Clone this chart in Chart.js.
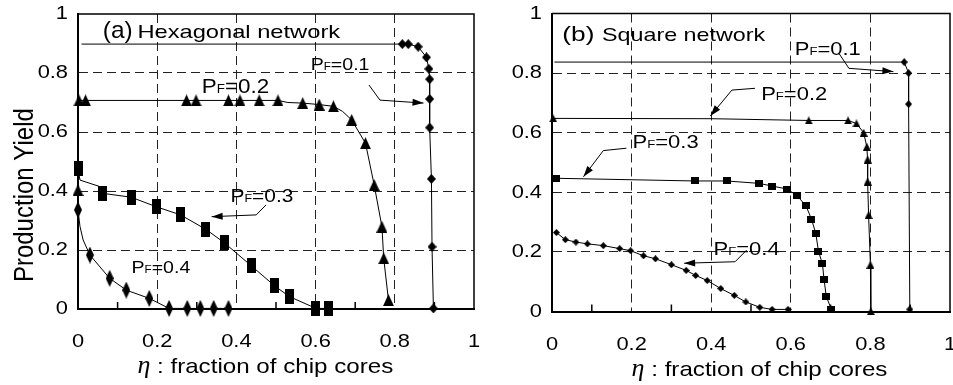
<!DOCTYPE html>
<html>
<head>
<meta charset="utf-8">
<script src="https://cdn.jsdelivr.net/npm/chart.js@4.4.0/dist/chart.umd.min.js"></script>
<style>
  html, body { margin: 0; padding: 0; background: #fff; overflow: hidden; }
  #wrap { position: relative; width: 953px; height: 385px; overflow: hidden; }
  #hexChart { position: absolute; left: 0; top: 0; }
  #sqChart { position: absolute; left: 480px; top: 0; }
</style>
</head>
<body>
<div id="wrap">
  <canvas id="hexChart" width="480" height="385"></canvas>
  <canvas id="sqChart" width="476" height="385"></canvas>
</div>
<script>
// tick labels shared by both axes of both panels
const tickLabels = ['0', '0.2', '0.4', '0.6', '0.8', '1'];

// (a) Hexagonal network -- drawn curve and marked points per failure probability
const hexCurve1X = [0.009, 0.819, 0.834, 0.859, 0.880, 0.886, 0.888, 0.888, 0.888, 0.8925, 0.894, 0.8975];
const hexCurve1Y = [0.898, 0.898, 0.898, 0.889, 0.853, 0.814, 0.779, 0.712, 0.615, 0.441, 0.211, 0.002];
const hexMark1X = [0.819, 0.834, 0.859, 0.880, 0.886, 0.888, 0.888, 0.888, 0.8925, 0.894, 0.8975];
const hexMark1Y = [0.898, 0.898, 0.889, 0.853, 0.814, 0.779, 0.712, 0.615, 0.441, 0.211, 0.002];

const hexCurve2X = [0, 0, 0.019, 0.274, 0.409, 0.505, 0.53, 0.5675, 0.609, 0.645, 0.668, 0.691, 0.726, 0.748, 0.7675, 0.772, 0.784];
const hexCurve2Y = [0.403, 0.707, 0.707, 0.707, 0.707, 0.707, 0.700, 0.698, 0.693, 0.687, 0.670, 0.641, 0.562, 0.420, 0.279, 0.172, 0.030];
const hexMark2X = [0, 0.0025, 0.019, 0.274, 0.298, 0.38, 0.409, 0.4575, 0.505, 0.5675, 0.609, 0.645, 0.691, 0.726, 0.748, 0.7675, 0.772, 0.784];
const hexMark2Y = [0.403, 0.707, 0.707, 0.707, 0.707, 0.707, 0.707, 0.707, 0.707, 0.698, 0.693, 0.687, 0.641, 0.562, 0.420, 0.279, 0.172, 0.030];

const hexCurve3X = [0, 0.005, 0.055, 0.063, 0.134, 0.197, 0.259, 0.323, 0.369, 0.438, 0.497, 0.534, 0.601, 0.632];
const hexCurve3Y = [0.475, 0.437, 0.415, 0.392, 0.379, 0.347, 0.319, 0.270, 0.225, 0.146, 0.078, 0.042, 0.002, 0.002];
const hexMark3X = [0, 0.063, 0.134, 0.197, 0.259, 0.323, 0.369, 0.438, 0.497, 0.534, 0.601, 0.632];
const hexMark3Y = [0.475, 0.392, 0.379, 0.347, 0.319, 0.270, 0.225, 0.146, 0.078, 0.042, 0.002, 0.002];

const hexCurve4X = [0, 0.005, 0.013, 0.03, 0.08, 0.122, 0.18, 0.23, 0.276, 0.309, 0.3425, 0.38];
const hexCurve4Y = [0.336, 0.280, 0.234, 0.183, 0.104, 0.064, 0.036, 0.002, 0.002, 0.002, 0.002, 0.002];
const hexMark4X = [0, 0.03, 0.08, 0.122, 0.18, 0.23, 0.276, 0.309, 0.3425, 0.38];
const hexMark4Y = [0.336, 0.183, 0.104, 0.064, 0.036, 0.002, 0.002, 0.002, 0.002, 0.002];

// (b) Square network
const sqCurve1X = [0.006, 0.885, 0.896, 0.896, 0.899];
const sqCurve1Y = [0.837, 0.837, 0.800, 0.696, 0.007];
const sqMark1X = [0.885, 0.896, 0.896, 0.899];
const sqMark1Y = [0.837, 0.800, 0.696, 0.007];

const sqCurve2X = [0.003, 0.40, 0.645, 0.744, 0.765, 0.783, 0.791, 0.793, 0.793, 0.7955, 0.800, 0.801];
const sqCurve2Y = [0.648, 0.647, 0.641, 0.641, 0.631, 0.600, 0.553, 0.510, 0.436, 0.324, 0.157, 0.001];
const sqMark2X = [0.003, 0.645, 0.744, 0.765, 0.783, 0.791, 0.793, 0.793, 0.7955, 0.800, 0.801];
const sqMark2Y = [0.648, 0.641, 0.641, 0.631, 0.600, 0.553, 0.510, 0.436, 0.324, 0.157, 0.001];

const sqMark3X = [0.011, 0.359, 0.439, 0.52, 0.553, 0.591, 0.616, 0.638, 0.652, 0.663, 0.6695, 0.6795, 0.6836, 0.689, 0.702];
const sqMark3Y = [0.447, 0.438, 0.438, 0.430, 0.421, 0.411, 0.388, 0.355, 0.310, 0.261, 0.202, 0.160, 0.107, 0.051, 0.007];

const sqMark4X = [0.011, 0.0335, 0.06, 0.089, 0.129, 0.170, 0.1975, 0.23, 0.26, 0.30, 0.337, 0.361, 0.39, 0.424, 0.458, 0.487, 0.522, 0.553, 0.593];
const sqMark4Y = [0.265, 0.241, 0.233, 0.227, 0.221, 0.211, 0.204, 0.187, 0.177, 0.157, 0.138, 0.121, 0.104, 0.077, 0.054, 0.032, 0.014, 0.007, 0.007];

// --- helpers ---
function marker(shape, w, h) {
  const c = document.createElement('canvas');
  c.width = w; c.height = h;
  const g = c.getContext('2d');
  g.fillStyle = '#000';
  g.beginPath();
  if (shape === 'diamond') {
    g.moveTo(w / 2, 0); g.lineTo(w, h / 2); g.lineTo(w / 2, h); g.lineTo(0, h / 2);
  } else if (shape === 'triangle') {
    g.moveTo(w / 2, 0); g.lineTo(w, h); g.lineTo(0, h);
  } else {
    g.rect(0, 0, w, h);
  }
  g.closePath();
  g.fill();
  return c;
}

function pts(xs, ys) {
  return xs.map((x, i) => ({ x: x, y: ys[i] }));
}

function curve(xs, ys) {
  return { data: pts(xs, ys), showLine: true, borderColor: '#000', borderWidth: 1,
           pointRadius: 0, tension: 0, clip: false, order: 2 };
}

function marks(xs, ys, img) {
  return { data: pts(xs, ys), showLine: false, pointStyle: img, pointRadius: 5,
           clip: false, order: 1 };
}

function text(ctx, str, px, py, size, sx, o) {
  o = o || {};
  ctx.save();
  ctx.font = (o.style ? o.style + ' ' : '') + size + 'px ' + (o.family || '"Liberation Sans", Arial, sans-serif');
  ctx.fillStyle = '#000';
  ctx.textAlign = o.align || 'left';
  ctx.textBaseline = o.baseline || 'alphabetic';
  ctx.translate(px, py);
  if (o.rotate) { ctx.rotate(o.rotate); ctx.scale(1, sx); } else { ctx.scale(sx, 1); }
  ctx.fillText(str, 0, 0);
  const w = ctx.measureText(str).width * sx;
  ctx.restore();
  return w;
}

function pfLabel(ctx, px, py, size, sx, value) {
  let cx = px;
  cx += text(ctx, 'P', cx, py, size, sx);
  cx += text(ctx, 'F', cx, py, size * 0.6, sx);
  text(ctx, '=' + value, cx, py, size, sx);
}

function arrow(ctx, p) {
  ctx.save();
  ctx.strokeStyle = '#000';
  ctx.fillStyle = '#000';
  ctx.lineWidth = 1;
  ctx.beginPath();
  p.forEach((q, i) => (i ? ctx.lineTo(q[0], q[1]) : ctx.moveTo(q[0], q[1])));
  ctx.stroke();
  const a = p[p.length - 2], b = p[p.length - 1];
  const ang = Math.atan2(b[1] - a[1], b[0] - a[0]);
  const L = 11, W = 3.5, c = Math.cos(ang), s = Math.sin(ang);
  ctx.beginPath();
  ctx.moveTo(b[0], b[1]);
  ctx.lineTo(b[0] - L * c + W * s, b[1] - L * s - W * c);
  ctx.lineTo(b[0] - L * c - W * s, b[1] - L * s + W * c);
  ctx.closePath();
  ctx.fill();
  ctx.restore();
}

function tickText(v) {
  return tickLabels[Math.round(v / 0.2)];
}

function notesPlugin(n) {
  return {
    id: 'panelNotes',
    afterDraw(chart) {
      const ctx = chart.ctx, a = chart.chartArea, x = chart.scales.x, y = chart.scales.y;
      const px = v => x.getPixelForValue(v), py = v => y.getPixelForValue(v);
      ctx.save();
      // frame top/right
      ctx.strokeStyle = '#000';
      ctx.lineWidth = 1.5;
      ctx.beginPath();
      ctx.moveTo(a.left, a.top); ctx.lineTo(a.right, a.top); ctx.lineTo(a.right, a.bottom);
      ctx.stroke();
      // inward minor ticks on x axis
      x.ticks.forEach((t, i) => {
        if (i % 2 === 1) {
          ctx.beginPath();
          ctx.moveTo(px(t.value), a.bottom);
          ctx.lineTo(px(t.value), a.bottom - 7);
          ctx.stroke();
        }
      });
      ctx.restore();
      // tick labels
      y.ticks.forEach(t => text(ctx, tickText(t.value), a.left - 10, py(t.value), 19, 1.15,
        { align: 'right', baseline: 'middle' }));
      x.ticks.forEach((t, i) => {
        if (i % 2 === 0) text(ctx, tickText(t.value), px(t.value), a.bottom + 38, 19, 1.15, { align: 'center' });
      });
      // axis titles
      if (n.yTitle) {
        text(ctx, n.yTitle, a.left - 45, py(n.yTitleAt), 24, 1.15, { align: 'center', rotate: -Math.PI / 2 });
      }
      let tx = px(n.xTitleAt);
      tx += text(ctx, 'η', tx, a.bottom + 64, 26, 1, { style: 'italic', family: '"Liberation Serif", "DejaVu Serif", serif' });
      text(ctx, ' : fraction of chip cores', tx, a.bottom + 64, 21, 1.15);
      // panel caption
      text(ctx, n.tag, px(n.tagAt[0]), py(n.tagAt[1]), n.tagSize, n.tagSx);
      text(ctx, n.name, px(n.nameAt[0]), py(n.nameAt[1]), 18.5, n.nameSx);
      // PF labels and arrows
      n.labels.forEach(l => pfLabel(ctx, px(l.at[0]), py(l.at[1]), l.size, l.sx, l.value));
      n.arrows.forEach(ar => arrow(ctx, ar.map(q => [px(q[0]), py(q[1])])));
    }
  };
}

function makePanel(id, datasets, padding, notes) {
  const gridColor = c => {
    if (!c.tick) return 'rgba(0,0,0,0)';
    const k = Math.round(c.tick.value * 10);
    return (k % 2 === 1 || k === 0 || k === 10) ? 'rgba(0,0,0,0)' : '#222';
  };
  return new Chart(document.getElementById(id), {
    type: 'scatter',
    data: { datasets: datasets },
    options: {
      responsive: false,
      animation: false,
      events: [],
      layout: { padding: padding },
      plugins: { legend: { display: false }, tooltip: { enabled: false } },
      scales: {
        x: {
          type: 'linear', min: 0, max: 1,
          ticks: { stepSize: 0.1, display: false },
          grid: { drawTicks: false, color: gridColor, lineWidth: 1 },
          border: { display: true, color: '#000', width: 2, dash: [9, 5] }
        },
        y: {
          type: 'linear', min: 0, max: 1,
          ticks: { stepSize: 0.2, display: false },
          grid: { drawTicks: false, color: gridColor, lineWidth: 1 },
          border: { display: true, color: '#000', width: 2, dash: [9, 5] }
        }
      }
    },
    plugins: [notesPlugin(notes)]
  });
}

// (a) Hexagonal network
makePanel('hexChart', [
  curve(hexCurve1X, hexCurve1Y), marks(hexMark1X, hexMark1Y, marker('diamond', 9, 10)),
  curve(hexCurve2X, hexCurve2Y), marks(hexMark2X, hexMark2Y, marker('triangle', 11, 12)),
  curve(hexCurve3X, hexCurve3Y), marks(hexMark3X, hexMark3Y, marker('square', 9, 15)),
  curve(hexCurve4X, hexCurve4Y), marks(hexMark4X, hexMark4Y, marker('diamond', 8, 17))
], { left: 78, top: 14, right: 2, bottom: 76 }, {
  yTitle: 'Production Yield', yTitleAt: 0.386,
  xTitleAt: 0.15,
  tag: '(a)', tagAt: [0.0625, 0.917], tagSize: 24, tagSx: 1.02,
  name: 'Hexagonal network', nameAt: [0.15, 0.917], nameSx: 1.28,
  labels: [
    { value: '0.1', at: [0.5875, 0.81], size: 17, sx: 1.15 },
    { value: '0.2', at: [0.3125, 0.732], size: 20, sx: 1.12 },
    { value: '0.3', at: [0.385, 0.363], size: 19, sx: 1.1 },
    { value: '0.4', at: [0.135, 0.122], size: 17, sx: 1.15 }
  ],
  arrows: [
    [[0.735, 0.759], [0.7625, 0.708], [0.8725, 0.698]],
    [[0.475, 0.353], [0.45, 0.319], [0.3375, 0.313]]
  ]
});

// (b) Square network
makePanel('sqChart', [
  curve(sqCurve1X, sqCurve1Y), marks(sqMark1X, sqMark1Y, marker('diamond', 7, 8)),
  curve(sqCurve2X, sqCurve2Y), marks(sqMark2X, sqMark2Y, marker('triangle', 8, 8)),
  curve(sqMark3X, sqMark3Y), marks(sqMark3X, sqMark3Y, marker('square', 8, 7)),
  curve(sqMark4X, sqMark4Y), marks(sqMark4X, sqMark4Y, marker('diamond', 7, 7))
], { left: 72, top: 13.5, right: 2, bottom: 73.5 }, {
  xTitleAt: 0.2,
  tag: '(b)', tagAt: [0.026, 0.908], tagSize: 21, tagSx: 1.25,
  name: 'Square network', nameAt: [0.1255, 0.908], nameSx: 1.26,
  labels: [
    { value: '0.1', at: [0.61, 0.861], size: 18, sx: 1.22 },
    { value: '0.2', at: [0.5255, 0.71], size: 18, sx: 1.22 },
    { value: '0.3', at: [0.2025, 0.549], size: 18, sx: 1.22 },
    { value: '0.4', at: [0.406, 0.19], size: 18, sx: 1.22 }
  ],
  arrows: [
    [[0.721, 0.866], [0.746, 0.816], [0.8577, 0.805]],
    [[0.51, 0.749], [0.452, 0.743], [0.398, 0.656]],
    [[0.187, 0.548], [0.129, 0.54], [0.079, 0.452]],
    [[0.489, 0.206], [0.46, 0.167], [0.332, 0.162]]
  ]
});
</script>
</body>
</html>
